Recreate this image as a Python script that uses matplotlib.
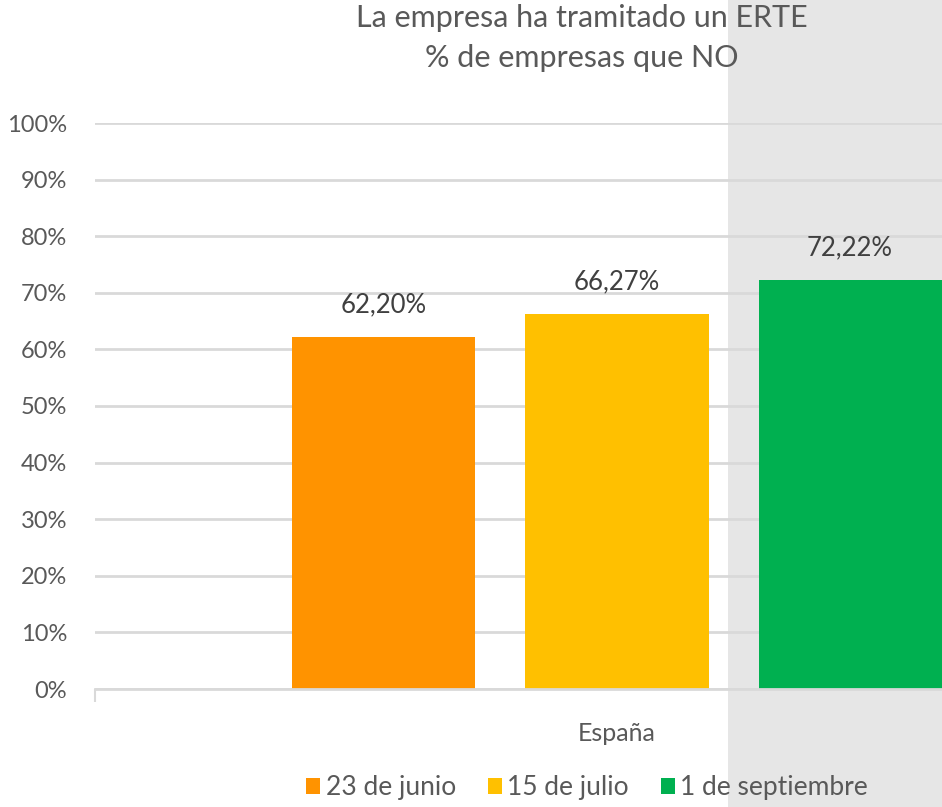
import matplotlib
matplotlib.use("Agg")
import matplotlib.pyplot as plt
from matplotlib.patches import Rectangle
import numpy as np

# ---- data ----
categories = ["España"]
series_names = ["23 de junio", "15 de julio", "1 de septiembre"]
series_values = [62.20, 66.27, 72.22]
series_labels = ["62,20%", "66,27%", "72,22%"]
series_colors = ["#FF9300", "#FFC000", "#00B050"]
yticks = [0, 10, 20, 30, 40, 50, 60, 70, 80, 90, 100]
ytick_labels = [f"{v}%" for v in yticks]
title_lines = ["La empresa ha tramitado un ERTE", "% de empresas que NO"]

plt.rcParams['font.family'] = ['Lato', 'DejaVu Sans']

W, H = 942, 807
fig = plt.figure(figsize=(W / 100, H / 100), dpi=100)
fig.patch.set_facecolor("white")

# grey background image area on the right
bg = Rectangle((728 / W, 0), 1 - 728 / W, 1, transform=fig.transFigure,
               facecolor="#e6e6e6", edgecolor="none", zorder=-5)
fig.add_artist(bg)

left_px, right_px = 95, 1139
top_px, bot_px = 123, 689
ax = fig.add_axes([left_px / W, (H - bot_px) / H, (right_px - left_px) / W, (bot_px - top_px) / H])
ax.set_zorder(1)
ax.patch.set_alpha(0)

bar_w = 0.1753
offset = 0.2232
x0 = np.arange(len(categories))
for i, (name, val, lab, col) in enumerate(zip(series_names, series_values, series_labels, series_colors)):
    xs = x0 + (i - 1) * offset
    ax.bar(xs, [val], width=bar_w, color=col, label=name, zorder=3)
    ax.text(xs[0], val + 3.5, lab, ha="center", va="bottom", fontsize=18.5, color="#404040", zorder=4)

ax.set_xlim(-0.5, 0.5)
ax.set_ylim(0, 100)
ax.set_yticks(yticks)
ax.set_yticklabels(ytick_labels)
ax.tick_params(axis="y", length=0, pad=20, labelsize=17, labelcolor="#595959")
ax.yaxis.grid(True, color="#d9d9d9", linewidth=2, zorder=1)
ax.set_axisbelow(True)

ax.set_xticks(x0)
ax.set_xticklabels(categories)
ax.tick_params(axis="x", which="major", length=0, pad=24, labelsize=18, labelcolor="#595959")
ax.set_xticks([-0.5, 0.5], minor=True)
ax.tick_params(axis="x", which="minor", length=9, width=1.5, color="#d9d9d9", direction="out")

for s in ["left", "right", "top"]:
    ax.spines[s].set_visible(False)
ax.spines["bottom"].set_color("#d9d9d9")
ax.spines["bottom"].set_linewidth(2)
ax.spines["bottom"].set_zorder(5)

fig.text(582 / W, 1 - 18 / H, title_lines[0], ha="center", va="center", fontsize=22, color="#595959")
fig.text(582 / W, 1 - 58 / H, title_lines[1], ha="center", va="center", fontsize=22, color="#595959")

handles, labels = ax.get_legend_handles_labels()
leg = fig.legend(handles, labels, loc="center", bbox_to_anchor=(587 / W, 1 - 788 / H), ncol=3,
                 frameon=False, fontsize=19, labelcolor="#595959", handlelength=0.55, handleheight=0.55,
                 handletextpad=0.2, columnspacing=1.2)
leg.set_zorder(10)

fig.savefig("out.png", dpi=100, facecolor=fig.get_facecolor())
